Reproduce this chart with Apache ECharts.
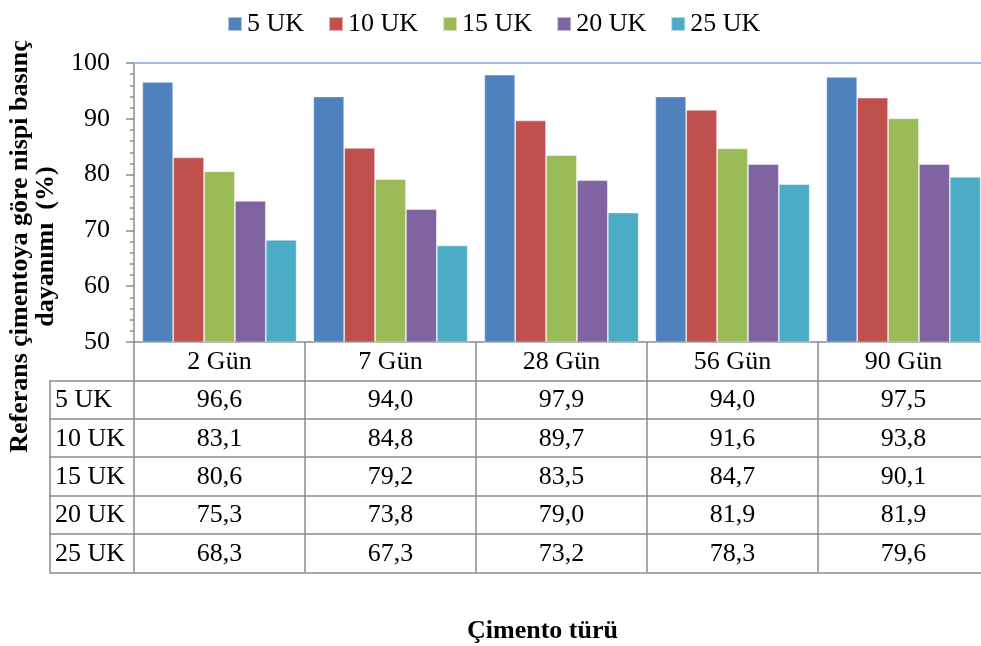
<!DOCTYPE html>
<html>
<head>
<meta charset="utf-8">
<script src="https://cdn.jsdelivr.net/npm/echarts@6/dist/echarts.min.js"></script>
<style>
  html, body { margin: 0; padding: 0; background: #fff; }
  #chart { width: 981px; height: 646px; }
</style>
</head>
<body>
<div id="chart"></div>
<script>
// Curing ages on the category axis
const categories = ['2 Gün', '7 Gün', '28 Gün', '56 Gün', '90 Gün'];
// Series names (replacement ratio)
const seriesNames = ['5 UK', '10 UK', '15 UK', '20 UK', '25 UK'];
// Relative compressive strength (%) per series
const uk5  = [96.6, 94.0, 97.9, 94.0, 97.5];
const uk10 = [83.1, 84.8, 89.7, 91.6, 93.8];
const uk15 = [80.6, 79.2, 83.5, 84.7, 90.1];
const uk20 = [75.3, 73.8, 79.0, 81.9, 81.9];
const uk25 = [68.3, 67.3, 73.2, 78.3, 79.6];
// Value axis range
const yMin = 50, yMax = 100, yStep = 10;

const seriesValues = [uk5, uk10, uk15, uk20, uk25];
const colors = ['#4F81BD', '#C0504D', '#9BBB59', '#8064A2', '#4BACC6'];

const FONT = "'Liberation Serif', 'Times New Roman', serif";
const FS = 26;
const ROW = 38.4;          // data-table row height
const LINE = '#8c8c8c';    // table / axis line colour
const fmt = v => v.toFixed(1).replace('.', ',');

const chart = echarts.init(document.getElementById('chart'), null, { renderer: 'canvas' });

const textBase = { fontFamily: FONT, fontSize: FS, color: '#000' };

// x axes: category header, one axis per table row, and a closing line
const xAxes = [];
xAxes.push({
  type: 'category', gridIndex: 0, data: categories, position: 'bottom',
  axisLine: { lineStyle: { color: LINE, width: 1.5 } },
  axisTick: { show: true, length: ROW, lineStyle: { color: LINE, width: 1.5 } },
  axisLabel: Object.assign({ margin: 7 }, textBase)
});
seriesValues.forEach((vals, r) => {
  xAxes.push({
    type: 'category', gridIndex: 0, data: categories, position: 'bottom',
    offset: ROW * (r + 1),
    axisLine: { lineStyle: { color: LINE, width: 1.5 } },
    axisTick: { show: true, length: ROW, lineStyle: { color: LINE, width: 1.5 } },
    axisLabel: Object.assign({ margin: 7, formatter: (v, i) => fmt(vals[i]) }, textBase)
  });
});
xAxes.push({
  type: 'category', gridIndex: 0, data: categories, position: 'bottom',
  offset: ROW * 6,
  axisLine: { lineStyle: { color: LINE, width: 1.5 } },
  axisTick: { show: false }, axisLabel: { show: false }
});
// light top border of the plot area
xAxes.push({
  type: 'category', gridIndex: 0, data: categories, position: 'top',
  axisLine: { lineStyle: { color: '#A4BDE6', width: 2 } },
  axisTick: { show: false }, axisLabel: { show: false }
});
// row-header column of the data table
seriesNames.forEach((name, r) => {
  xAxes.push({
    type: 'category', gridIndex: 1, data: [name], position: 'bottom',
    offset: ROW * (r + 1),
    axisLine: { lineStyle: { color: LINE, width: 1.5 } },
    axisTick: { show: true, length: ROW, lineStyle: { color: LINE, width: 1.5 } },
    axisLabel: {
      margin: 7,
      formatter: v => '{n|' + v + '}',
      rich: { n: Object.assign({ width: 74, align: 'left' }, textBase) }
    }
  });
});
xAxes.push({
  type: 'category', gridIndex: 1, data: [''], position: 'bottom',
  offset: ROW * 6,
  axisLine: { lineStyle: { color: LINE, width: 1.5 } },
  axisTick: { show: false }, axisLabel: { show: false }
});

const option = {
  animation: false,
  backgroundColor: '#fff',
  color: colors,
  legend: {
    data: seriesNames,
    top: 6, left: 222,
    itemWidth: 14, itemHeight: 14, itemGap: 24,
    icon: 'rect',
    textStyle: { fontFamily: FONT, fontSize: FS, color: '#000' }
  },
  title: {
    text: 'Çimento türü',
    left: 462, top: 613,
    textStyle: { fontFamily: FONT, fontSize: FS, fontWeight: 'bold', color: '#000' }
  },
  grid: [
    { left: 134, right: -8, top: 63, bottom: 304, containLabel: false, outerBoundsMode: 'none' },
    { left: 50, width: 84, top: 63, bottom: 304, containLabel: false, outerBoundsMode: 'none' }
  ],
  xAxis: xAxes,
  yAxis: [
    {
      type: 'value', gridIndex: 0,
      min: yMin, max: yMax, interval: yStep,
      axisLine: { show: true, lineStyle: { color: LINE, width: 1.5 } },
      axisTick: { show: true, length: 8, lineStyle: { color: LINE, width: 1.5 } },
      minorTick: { show: true, splitNumber: 5, length: 4, lineStyle: { color: LINE, width: 1.5 } },
      splitLine: { show: false },
      axisLabel: Object.assign({ margin: 24 }, textBase),
      name: 'Referans çimentoya göre nispi basınç\ndayanımı  (%)',
      nameLocation: 'middle',
      nameRotate: 90,
      nameGap: 75,
      nameTextStyle: {
        fontFamily: FONT, fontSize: FS, fontWeight: 'bold', color: '#000',
        lineHeight: 26, align: 'center', padding: [0, 88, 0, 0]
      }
    },
    { type: 'value', gridIndex: 1, show: false, min: yMin, max: yMax }
  ],
  series: seriesNames.map((name, s) => ({
    name: name,
    type: 'bar',
    xAxisIndex: 0, yAxisIndex: 0,
    data: seriesValues[s],
    barGap: '0%',
    barCategoryGap: '9.7%',
    itemStyle: { color: colors[s], borderColor: 'rgba(255,255,255,0.55)', borderWidth: 0.8 }
  }))
};

chart.setOption(option);
</script>
</body>
</html>
